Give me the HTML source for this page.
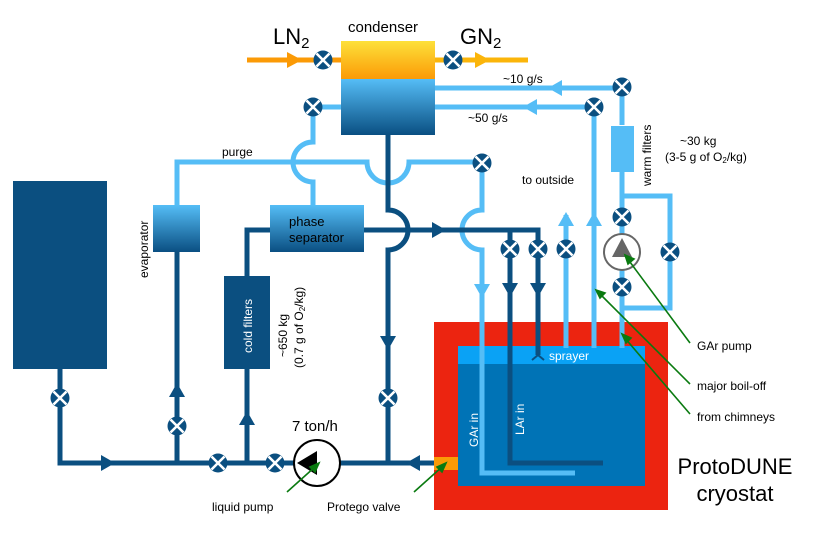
<!DOCTYPE html>
<html><head><meta charset="utf-8"><style>
html,body{margin:0;padding:0;background:#fff}
svg{display:block}
text{font-family:"Liberation Sans",sans-serif}
</style></head><body>
<svg width="830" height="551" viewBox="0 0 830 551" xmlns="http://www.w3.org/2000/svg">
<defs>
<linearGradient id="gy" x1="0" y1="0" x2="0" y2="1"><stop offset="0" stop-color="#fde13a"/><stop offset="1" stop-color="#fb9a06"/></linearGradient>
<linearGradient id="gb" x1="0" y1="0" x2="0" y2="1"><stop offset="0" stop-color="#55bdf6"/><stop offset="1" stop-color="#0a4f82"/></linearGradient>
<g id="v"><circle r="9.5" fill="#0b4f80"/><path d="M-6.5,-6.5L6.5,6.5M6.5,-6.5L-6.5,6.5" stroke="#fff" stroke-width="2.6"/></g>
</defs>
<!-- LN2 / GN2 -->
<g stroke="#fb9a06" stroke-width="5" fill="none"><path d="M247,60H341"/></g>
<g stroke="#fbb50a" stroke-width="5" fill="none"><path d="M435,60H528"/></g>
<polygon points="287,52 302,60 287,68" fill="#fb9a06"/>
<polygon points="475,52 490,60 475,68" fill="#fbb50a"/>
<text x="273" y="44" font-size="22">LN<tspan font-size="15" dy="4">2</tspan></text>
<text x="460" y="44" font-size="22">GN<tspan font-size="15" dy="4">2</tspan></text>
<text x="348" y="32" font-size="15">condenser</text>
<!-- light blue lines -->
<g stroke="#55bdf6" stroke-width="5" fill="none">
<path d="M435,88H622V125M622,172V348"/>
<path d="M435,107H594V348"/>
<path d="M341,107H313V142A20,20 0 0 0 313,182V205"/>
<path d="M177,205V162H367A21,21 0 0 0 409,162H482V210A20,20 0 0 0 482,250V473H575"/>
<path d="M566,215V348"/>
<path d="M622,196H670V308H622"/>
</g>
<polygon points="548,88 562,80 562,96" fill="#55bdf6"/>
<polygon points="523,107 537,99 537,115" fill="#55bdf6"/>
<polygon points="558,226 566,212 574,226" fill="#55bdf6"/>
<polygon points="586,226 594,212 602,226" fill="#55bdf6"/>
<polygon points="474,284 482,298 490,284" fill="#55bdf6"/>
<text x="503" y="83" font-size="12">~10 g/s</text>
<text x="468" y="122" font-size="12">~50 g/s</text>
<text x="222" y="156" font-size="12">purge</text>
<text x="522" y="184" font-size="12">to outside</text>
<text x="680" y="145" font-size="12">~30 kg</text>
<text x="665" y="161" font-size="12">(3-5 g of O<tspan font-size="8" dy="2">2</tspan><tspan dy="-2">/kg)</tspan></text>
<text transform="translate(651,186) rotate(-90)" font-size="12">warm filters</text>
<rect x="611" y="126" width="23" height="46" fill="#55bdf6"/>
<!-- cryostat -->
<rect x="434" y="322" width="234" height="188" fill="#ec2410"/>
<rect x="458" y="346" width="187" height="140" fill="#0073b6"/>
<rect x="458" y="346" width="187" height="18" fill="#0aa2f5"/>
<rect x="434" y="457" width="24" height="13" fill="#fb9a06"/>
<text x="549" y="360" font-size="12" fill="#fff">sprayer</text>
<g stroke="#55bdf6" stroke-width="5" fill="none">
<path d="M566,300V348M594,300V348M622,300V348"/>
<path d="M482,300V473H575"/>
</g>
<!-- dark lines -->
<g stroke="#0b4f80" stroke-width="5" fill="none">
<path d="M60,369V463H434"/>
<path d="M177,252V463"/>
<path d="M247,463V369M247,276V230H270"/>
<path d="M364,230H538V355"/>
<path d="M388,135V210A20,20 0 0 1 388,250V463"/>
<path d="M510,230V463H603"/>
<path d="M538,355l-6,5M538,355l6,5" stroke-width="2"/>
</g>
<polygon points="432,222 446,230 432,238" fill="#0b4f80"/>
<polygon points="502,283 510,297 518,283" fill="#0b4f80"/>
<polygon points="530,283 538,297 546,283" fill="#0b4f80"/>
<polygon points="380,336 388,350 396,336" fill="#0b4f80"/>
<polygon points="169,397 177,383 185,397" fill="#0b4f80"/>
<polygon points="239,425 247,411 255,425" fill="#0b4f80"/>
<polygon points="101,455 115,463 101,471" fill="#0b4f80"/>
<polygon points="420,455 406,463 420,471" fill="#0b4f80"/>
<text transform="translate(478,447) rotate(-90)" font-size="12" fill="#fff">GAr in</text>
<text transform="translate(524,435) rotate(-90)" font-size="12" fill="#fff">LAr in</text>
<!-- condenser -->
<rect x="341" y="41" width="94" height="38" fill="url(#gy)"/>
<rect x="341" y="79" width="94" height="56" fill="url(#gb)"/>
<!-- boxes -->
<rect x="13" y="181" width="94" height="188" fill="#0b4f80"/>
<rect x="153" y="205" width="47" height="47" fill="url(#gb)"/>
<text transform="translate(148,278) rotate(-90)" font-size="12">evaporator</text>
<rect x="270" y="205" width="94" height="47" fill="url(#gb)"/>
<text x="289" y="226" font-size="13">phase</text>
<text x="289" y="242" font-size="13">separator</text>
<rect x="224" y="276" width="46" height="93" fill="#0b4f80"/>
<text transform="translate(252,353) rotate(-90)" font-size="12" fill="#fff">cold filters</text>
<text transform="translate(287,357) rotate(-90)" font-size="12">~650 kg</text>
<text transform="translate(303,368) rotate(-90)" font-size="12">(0.7 g of O<tspan font-size="8" dy="2">2</tspan><tspan dy="-2">/kg)</tspan></text>
<!-- liquid pump -->
<circle cx="317" cy="463" r="23" fill="#fff" stroke="#000" stroke-width="2"/>
<polygon points="297,463 317,451 317,475" fill="#000"/>
<text x="292" y="431" font-size="15">7 ton/h</text>
<!-- GAr pump -->
<circle cx="622" cy="252" r="18" fill="#fff" stroke="#666" stroke-width="2"/>
<polygon points="622,238 632,257 612,257" fill="#666"/>
<!-- valves -->
<use href="#v" x="323" y="60"/><use href="#v" x="453" y="60"/>
<use href="#v" x="622" y="87"/><use href="#v" x="594" y="107"/>
<use href="#v" x="313" y="107"/><use href="#v" x="482" y="163"/>
<use href="#v" x="510" y="249"/><use href="#v" x="538" y="249"/><use href="#v" x="566" y="249"/>
<use href="#v" x="622" y="217"/><use href="#v" x="622" y="287"/><use href="#v" x="670" y="252"/>
<use href="#v" x="60" y="398"/><use href="#v" x="177" y="426"/><use href="#v" x="388" y="398"/>
<use href="#v" x="218" y="463"/><use href="#v" x="275" y="463"/>
<!-- annotations -->
<g stroke="#0a7a10" stroke-width="1.6" fill="#0a7a10">
<path d="M690,343L627,258"/><polygon points="625,255 634,259 628,264"/>
<path d="M690,384L598,292"/><polygon points="596,290 605,293 600,298"/>
<path d="M690,414L624,337"/><polygon points="622,334 631,338 626,343"/>
<path d="M287,492L316,466"/><polygon points="319,463 315,472 310,467"/>
<path d="M414,492L443,466"/><polygon points="446,463 442,472 437,467"/>
</g>
<text x="697" y="350" font-size="12">GAr pump</text>
<text x="697" y="390" font-size="12">major boil-off</text>
<text x="697" y="421" font-size="12">from chimneys</text>
<text x="212" y="511" font-size="12">liquid pump</text>
<text x="327" y="511" font-size="12">Protego valve</text>
<text x="735" y="474" font-size="22" text-anchor="middle">ProtoDUNE</text>
<text x="735" y="501" font-size="22" text-anchor="middle">cryostat</text>
</svg>
</body></html>
